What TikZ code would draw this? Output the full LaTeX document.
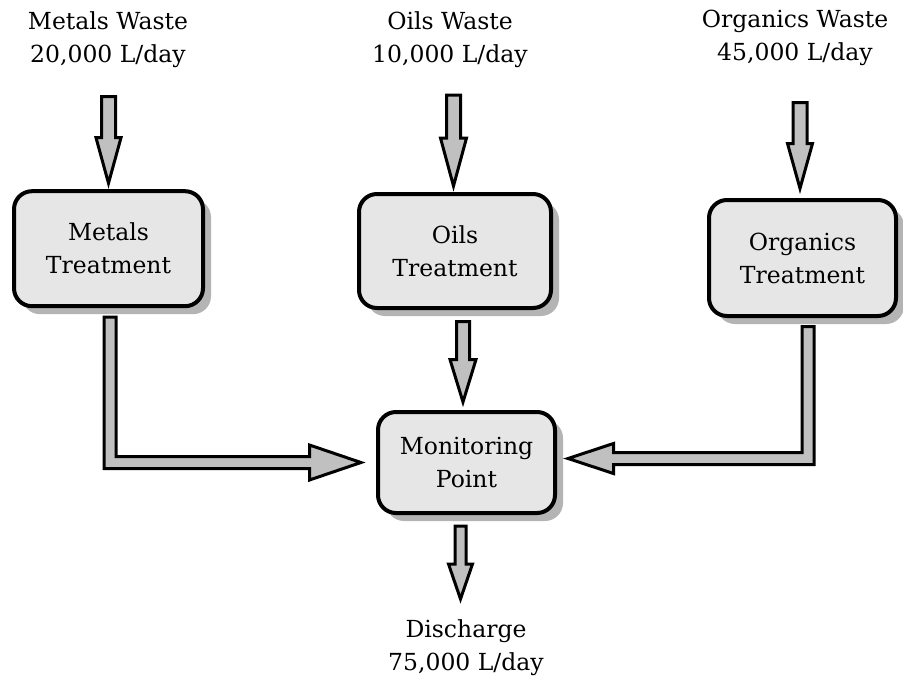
\documentclass[tikz,border=0pt]{standalone}
\usepackage{fontspec}
\setmainfont{DejaVu Serif}
\usetikzlibrary{calc,shadows}
\definecolor{boxfill}{HTML}{E6E6E6}
\definecolor{boxshadow}{HTML}{B4B4B4}
\definecolor{arrowfill}{HTML}{C0C0C0}
\definecolor{arrowshadow}{HTML}{D6D6D6}
\tikzset{
  procbox/.style={draw, line width=4pt, rounded corners=18pt, fill=boxfill, align=center, inner sep=0pt,
    font=\fontsize{23.5}{33}\selectfont,
    drop shadow={shadow xshift=8pt, shadow yshift=-8pt, fill=boxshadow, opacity=1}},
  flowlabel/.style={align=center, inner sep=0pt, font=\fontsize{23.5}{33}\selectfont},
  blockarrow/.style={draw=black, fill=arrowfill, line width=3pt, line join=miter, miter limit=10},
  blockshadow/.style={fill=arrowshadow, draw=none}
}
% vertical down block arrow: start, tip, shaft half width, head half width, head length
\newcommand\DArrow[5]{%
  \fill[blockshadow, xshift=2pt, yshift=-3pt] let \p1=(#1), \p2=(#2) in
    (\x1-#3,\y1) -- (\x1-#3,\y2+#5) -- (\x1-#4,\y2+#5) -- (\x1,\y2) -- (\x1+#4,\y2+#5) -- (\x1+#3,\y2+#5) -- (\x1+#3,\y1) -- cycle;
  \draw[blockarrow] let \p1=(#1), \p2=(#2) in
    (\x1-#3,\y1) -- (\x1-#3,\y2+#5) -- (\x1-#4,\y2+#5) -- (\x1,\y2) -- (\x1+#4,\y2+#5) -- (\x1+#3,\y2+#5) -- (\x1+#3,\y1) -- cycle;
}
% L block arrow: down then right
\newcommand\RLArrow[5]{%
  \fill[blockshadow, xshift=-2pt, yshift=-3pt] let \p1=(#1), \p2=(#2) in
    (\x1-#3,\y1) -- (\x1-#3,\y2-#3) -- (\x2-#5,\y2-#3) -- (\x2-#5,\y2-#4) -- (\x2,\y2) -- (\x2-#5,\y2+#4) -- (\x2-#5,\y2+#3) -- (\x1+#3,\y2+#3) -- (\x1+#3,\y1) -- cycle;
  \draw[blockarrow] let \p1=(#1), \p2=(#2) in
    (\x1-#3,\y1) -- (\x1-#3,\y2-#3) -- (\x2-#5,\y2-#3) -- (\x2-#5,\y2-#4) -- (\x2,\y2) -- (\x2-#5,\y2+#4) -- (\x2-#5,\y2+#3) -- (\x1+#3,\y2+#3) -- (\x1+#3,\y1) -- cycle;
}
% L block arrow: down then left
\newcommand\LLArrow[5]{%
  \fill[blockshadow, xshift=2pt, yshift=-3pt] let \p1=(#1), \p2=(#2) in
    (\x1+#3,\y1) -- (\x1+#3,\y2-#3) -- (\x2+#5,\y2-#3) -- (\x2+#5,\y2-#4) -- (\x2,\y2) -- (\x2+#5,\y2+#4) -- (\x2+#5,\y2+#3) -- (\x1-#3,\y2+#3) -- (\x1-#3,\y1) -- cycle;
  \draw[blockarrow] let \p1=(#1), \p2=(#2) in
    (\x1+#3,\y1) -- (\x1+#3,\y2-#3) -- (\x2+#5,\y2-#3) -- (\x2+#5,\y2-#4) -- (\x2,\y2) -- (\x2+#5,\y2+#4) -- (\x2+#5,\y2+#3) -- (\x1-#3,\y2+#3) -- (\x1-#3,\y1) -- cycle;
}
\begin{document}
\begin{tikzpicture}[x=1pt, y=-1pt]
\useasboundingbox[fill=white] (0,0) rectangle (903,681);

% labels
\node[flowlabel] (mw) at (108,40) {Metals Waste\\20,000 L/day};
\node[flowlabel] (ow) at (450,40) {Oils Waste\\10,000 L/day};
\node[flowlabel] (gw) at (795,38) {Organics Waste\\45,000 L/day};
\node[flowlabel] (dis) at (466,648) {Discharge\\75,000 L/day};

% boxes
\node[procbox, minimum width=189pt, minimum height=115pt] (mt) at (108.5,248.7) {Metals\\Treatment};
\node[procbox, minimum width=192pt, minimum height=114pt] (ot) at (455,251) {Oils\\Treatment};
\node[procbox, minimum width=187pt, minimum height=116pt] (gt) at (802.5,258) {Organics\\Treatment};
\node[procbox, minimum width=177pt, minimum height=101pt] (mon) at (466.5,462.5) {Monitoring\\Point};

% arrow end points
\coordinate (mws) at (108.5,96.5);
\coordinate (mwt) at ($(mt.north)+(0,-6)$);
\coordinate (ows) at (453.5,95);
\coordinate (owt) at ($(ot.north)+(-1.5,-6)$);
\coordinate (gws) at (800,102.5);
\coordinate (gwt) at ($(gt.north)+(-2.5,-9.5)$);
\coordinate (ots) at ($(ot.south)+(8,11.5)$);
\coordinate (ott) at ($(mon.north)+(-3.5,-8)$);
\coordinate (mons) at ($(mon.south)+(-6,11)$);
\coordinate (dist) at ($(mons)+(0,73)$);
\coordinate (mts) at ($(mt.south)+(1.5,9)$);
\coordinate (mtt) at ($(mon.west)+(-15,0)$);
\coordinate (gts) at ($(gt.south)+(5.5,8.5)$);
\coordinate (gtt) at ($(mon.east)+(11,-4)$);

% arrows
\DArrow{mws}{mwt}{7pt}{12.5pt}{45.5pt}
\DArrow{ows}{owt}{7pt}{13pt}{48pt}
\DArrow{gws}{gwt}{7pt}{12.5pt}{45pt}
\DArrow{ots}{ott}{6.5pt}{13pt}{42.5pt}
\DArrow{mons}{dist}{5.5pt}{12pt}{35pt}
\RLArrow{mts}{mtt}{6pt}{17.5pt}{51.5pt}
\LLArrow{gts}{gtt}{6pt}{15pt}{45.5pt}
\end{tikzpicture}
\end{document}
